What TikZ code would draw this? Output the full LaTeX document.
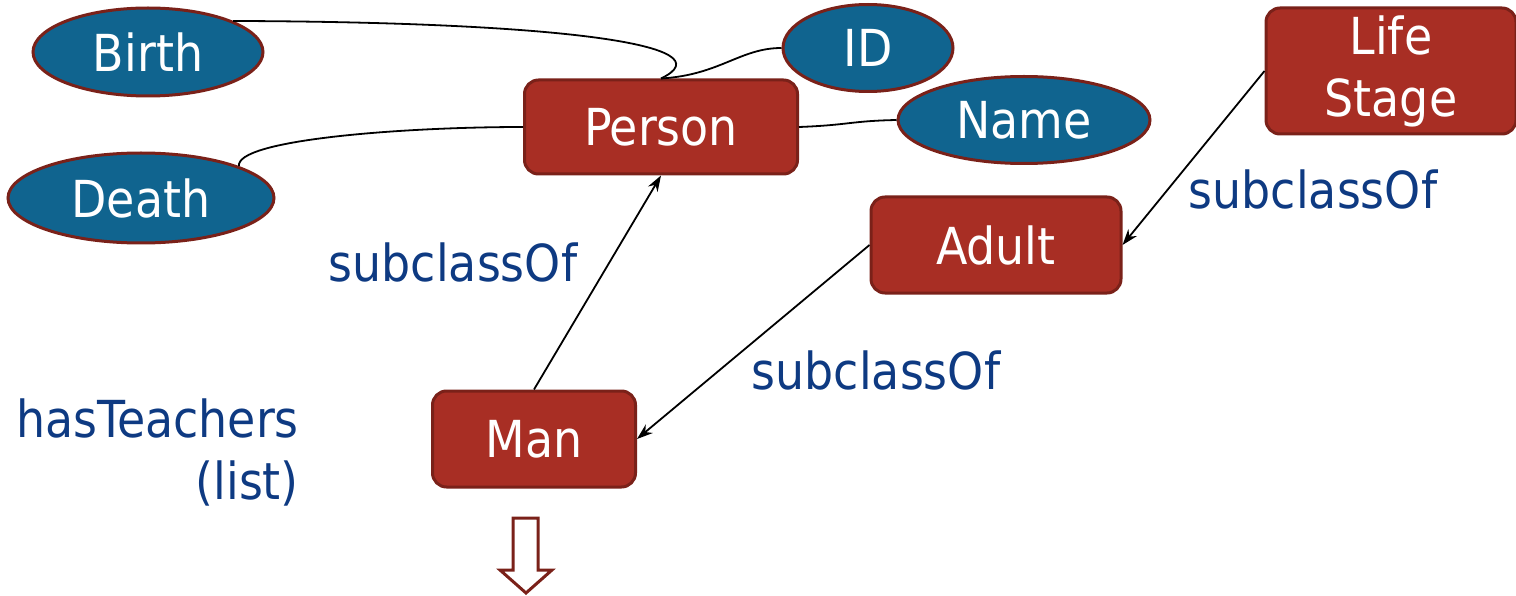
\documentclass[tikz,border=0pt]{standalone}
\usepackage{fontspec}
\setmainfont{DejaVu Sans Condensed}
\usepackage{xcolor}
\usetikzlibrary{shapes.geometric, arrows.meta}
\definecolor{classred}{HTML}{A82E24}
\definecolor{classedge}{HTML}{7A2119}
\definecolor{attrblue}{HTML}{10648F}
\definecolor{labelblue}{HTML}{0E3A82}
\tikzset{
    classbox/.style={rectangle, rounded corners=14pt, draw=classedge, fill=classred, line width=3pt, text=white, inner sep=0pt, align=center},
    attribute/.style={ellipse, draw=classedge, fill=attrblue, line width=3pt, text=white, inner sep=0pt},
    relation/.style={text=labelblue, align=right, inner sep=0pt},
    arrow/.style={-{Stealth[length=16pt, width=11pt]}, line width=1.8pt},
    link/.style={line width=1.8pt},
    hollowarrow/.style={draw=classedge, fill=white, line width=3pt, line join=miter}
}

\begin{document}
\begin{tikzpicture}[x=1pt, y=-1pt, font=\fontsize{51}{62}\selectfont]
            \useasboundingbox (0,0) rectangle (1516,596);
            \node (person) [classbox, minimum width=273pt, minimum height=94pt] at (661,127) {Person};
            \node (lifestage) [classbox, minimum width=250pt, minimum height=126pt] at (1391,71) {Life\\Stage};
            \node (adult) [classbox, minimum width=250pt, minimum height=96pt] at (996,245) {Adult};
            \node (man) [classbox, minimum width=203pt, minimum height=96pt] at (534,439) {Man};

            \node (birth) [attribute, minimum width=230pt, minimum height=88pt] at (148,52) {Birth};
            \node (death) [attribute, minimum width=266pt, minimum height=90pt] at (141,198) {Death};
            \node (id) [attribute, minimum width=170pt, minimum height=87pt] at (868,48) {ID};
            \node (name) [attribute, minimum width=252pt, minimum height=87pt] at (1024,120) {Name};

            % attribute links
            \draw[link] (birth.20) .. controls (560,22) and (730,45) .. (person.north);
            \draw[link] (person.north) .. controls (720,75) and (740,48) .. (id.west);
            \draw[link] (death.18) .. controls (235,140) and (400,127) .. (person.west);
            \draw[link] (person.east) .. controls (850,125) and (850,121) .. (name.west);

            % subclass arrows
            \draw[arrow] (man.north) -- (person.south);
            \draw[arrow] (adult.west) -- (man.east);
            \draw[arrow] (lifestage.west) -- (adult.east);

            \node (subperson) [relation] at (453,262) {subclassOf};
            \node (subadult) [relation] at (876,370) {subclassOf};
            \node (substage) [relation] at (1313,189) {subclassOf};
            \node (teachers) [relation, anchor=east] at (299,452) {hasTeachers\\(list)};

            % hollow arrow below Man
            \draw[hollowarrow] (513,518) -- (538,518) -- (538,570) -- (552,570) -- (526,593) -- (500,570) -- (513,570) -- cycle;
\end{tikzpicture}
\end{document}
